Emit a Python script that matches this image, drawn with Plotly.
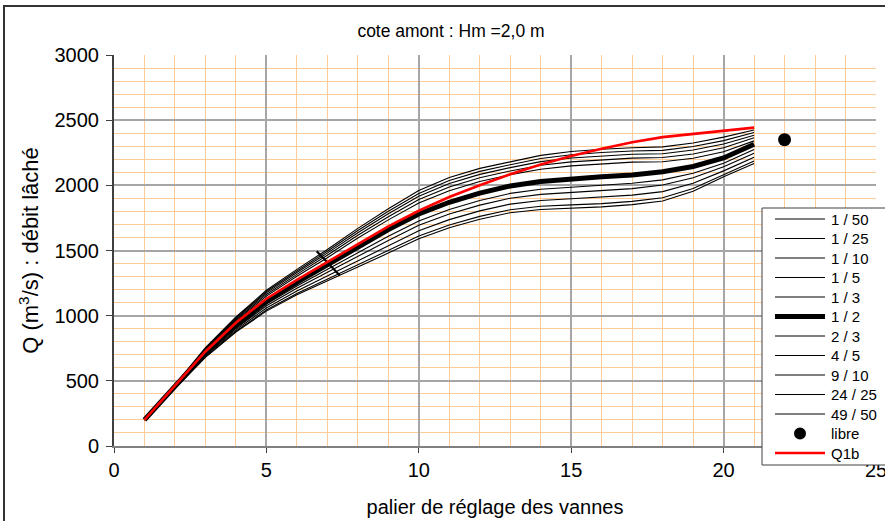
import plotly.graph_objects as go

# Gate setting steps (palier de réglage des vannes)
paliers = list(range(1, 22))

# Released discharge Q (m3/s) for each probability curve
q_1_50 = [200, 470, 755, 990, 1195, 1355, 1508, 1670, 1820, 1960, 2060, 2130, 2180, 2230, 2260, 2277, 2288, 2295, 2325, 2370, 2425]
q_1_25 = [200, 468, 750, 982, 1185, 1343, 1494, 1653, 1801, 1938, 2037, 2107, 2158, 2206, 2235, 2252, 2263, 2268, 2298, 2343, 2405]
q_1_10 = [200, 466, 745, 974, 1175, 1331, 1480, 1636, 1782, 1917, 2014, 2084, 2136, 2182, 2210, 2226, 2238, 2242, 2271, 2317, 2385]
q_1_5 = [200, 464, 740, 965, 1163, 1317, 1463, 1617, 1759, 1892, 1988, 2058, 2110, 2154, 2180, 2196, 2209, 2213, 2240, 2288, 2365]
q_1_3 = [200, 462, 734, 956, 1150, 1302, 1445, 1596, 1735, 1865, 1959, 2029, 2082, 2124, 2149, 2165, 2178, 2181, 2208, 2258, 2341]
q_1_2 = [200, 455, 715, 925, 1110, 1255, 1390, 1530, 1660, 1780, 1870, 1940, 1995, 2030, 2050, 2065, 2080, 2105, 2145, 2210, 2315]
q_2_3 = [200, 451, 705, 911, 1089, 1228, 1355, 1485, 1610, 1727, 1815, 1884, 1938, 1970, 1987, 2001, 2016, 2042, 2092, 2169, 2274]
q_4_5 = [200, 448, 699, 902, 1076, 1211, 1333, 1456, 1577, 1693, 1780, 1848, 1901, 1931, 1947, 1959, 1975, 2002, 2058, 2143, 2247]
q_9_10 = [200, 445, 691, 891, 1059, 1190, 1305, 1421, 1538, 1651, 1737, 1804, 1856, 1884, 1897, 1909, 1925, 1952, 2016, 2111, 2215]
q_24_25 = [200, 442, 684, 880, 1043, 1170, 1279, 1388, 1500, 1611, 1696, 1762, 1813, 1839, 1850, 1860, 1877, 1905, 1976, 2081, 2186]
q_49_50 = [200, 440, 680, 875, 1035, 1160, 1265, 1370, 1480, 1590, 1675, 1740, 1790, 1815, 1825, 1835, 1852, 1880, 1955, 2065, 2168]

# Reference curve Q1b
q1b = [200, 465, 725, 945, 1130, 1275, 1410, 1550, 1685, 1805, 1910, 2000, 2085, 2160, 2225, 2280, 2330, 2370, 2395, 2420, 2443]

# Free flow (gates fully open)
libre_x = [22]
libre_y = [2350]

# Marker across the bundle at step 7
repere_x = [6.65, 7.4]
repere_y = [1495, 1310]

curves = [
    ("1 / 50", q_1_50), ("1 / 25", q_1_25), ("1 / 10", q_1_10),
    ("1 / 5", q_1_5), ("1 / 3", q_1_3), ("1 / 2", q_1_2),
    ("2 / 3", q_2_3), ("4 / 5", q_4_5), ("9 / 10", q_9_10),
    ("24 / 25", q_24_25), ("49 / 50", q_49_50),
]

FONT = "Liberation Sans, Arial, sans-serif"
THIN, THICK, RED_W = 1.1, 5, 2.6

fig = go.Figure()
for name, vals in curves:
    fig.add_trace(go.Scatter(
        x=paliers, y=vals, mode="lines", name=name, showlegend=False,
        line=dict(color="black", width=THICK if name == "1 / 2" else THIN),
    ))

fig.add_trace(go.Scatter(
    x=repere_x, y=repere_y, mode="lines", showlegend=False,
    line=dict(color="black", width=2.2), hoverinfo="skip",
))

fig.add_trace(go.Scatter(
    x=libre_x, y=libre_y, mode="markers", name="libre", showlegend=False,
    marker=dict(color="black", size=13, symbol="circle"),
))

fig.add_trace(go.Scatter(
    x=paliers, y=q1b, mode="lines", name="Q1b", showlegend=False,
    line=dict(color="#FF0000", width=RED_W),
))

W, H = 885, 521
L, R, T, B = 114, 9, 55, 75
pw, ph = W - L - R, H - T - B


def px_x(p):
    return (p - L) / pw


def px_y(p):
    return (H - B - p) / ph


# Legend panel (frame, samples and labels)
shapes = [
    dict(type="rect", xref="paper", yref="paper",
         x0=px_x(762), x1=px_x(900), y0=px_y(465), y1=px_y(208),
         fillcolor="white", line=dict(color="#404040", width=1), layer="above"),
    dict(type="rect", xref="paper", yref="paper",
         x0=px_x(4), x1=px_x(900), y0=px_y(540), y1=px_y(6),
         fillcolor="rgba(0,0,0,0)", line=dict(color="#333333", width=2), layer="below"),
]
annotations = []

entries = [(name, "line", "black", THICK if name == "1 / 2" else THIN) for name, _ in curves]
entries.append(("libre", "dot", "black", 0))
entries.append(("Q1b", "line", "#FF0000", RED_W))

row0, row_h = 219, 19.5
for i, (label, kind, color, width) in enumerate(entries):
    yc = row0 + i * row_h
    if kind == "line":
        shapes.append(dict(type="line", xref="paper", yref="paper",
                           x0=px_x(775), x1=px_x(825), y0=px_y(yc), y1=px_y(yc),
                           line=dict(color=color, width=width), layer="above"))
    else:
        shapes.append(dict(type="circle", xref="paper", yref="paper",
                           x0=px_x(794), x1=px_x(806), y0=px_y(yc + 6), y1=px_y(yc - 6),
                           fillcolor=color, line=dict(color=color, width=0), layer="above"))
    annotations.append(dict(text=label, xref="paper", yref="paper",
                            x=px_x(829), y=px_y(yc), xanchor="left", yanchor="middle",
                            showarrow=False, font=dict(size=15, family=FONT, color="black")))

fig.update_layout(
    width=W, height=H,
    margin=dict(l=L, r=R, t=T, b=B, autoexpand=False),
    paper_bgcolor="white", plot_bgcolor="white",
    font=dict(family=FONT, color="black"),
    title=dict(text="cote amont : Hm =2,0 m", xref="container", x=451 / W, xanchor="center",
               y=1 - 31 / H, yanchor="middle", font=dict(size=17.5)),
    showlegend=False,
    xaxis=dict(
        range=[0, 25], dtick=5, tick0=0,
        showgrid=True, gridcolor="#A6A6A6", gridwidth=1.5,
        minor=dict(dtick=1, showgrid=True, gridcolor="#FFCC99", gridwidth=1),
        showline=True, linecolor="#808080", linewidth=2,
        ticks="outside", ticklen=5, tickcolor="#404040",
        tickfont=dict(size=20), zeroline=False, ticklabeloverflow="allow",
        title=dict(text="palier de réglage des vannes", font=dict(size=20), standoff=20),
    ),
    yaxis=dict(
        range=[0, 3000], dtick=500, tick0=0,
        showgrid=True, gridcolor="#A6A6A6", gridwidth=1.5,
        minor=dict(dtick=100, showgrid=True, gridcolor="#FFCC99", gridwidth=1),
        showline=True, linecolor="#404040", linewidth=2,
        ticks="outside", ticklen=6, tickcolor="#404040",
        tickfont=dict(size=20), zeroline=False, ticklabelstandoff=3,
        title=dict(text="Q (m<sup>3</sup>/s) : débit lâché", font=dict(size=22), standoff=10),
    ),
    shapes=shapes,
    annotations=annotations,
)

fig.write_html("out.html")
